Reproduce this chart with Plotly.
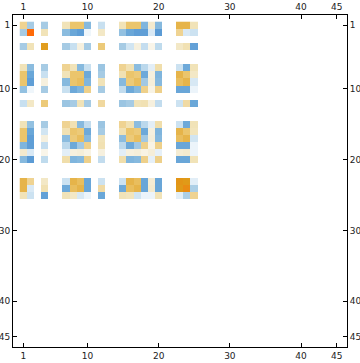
import numpy as np
import plotly.graph_objects as go

# matrix dimension and the indices (1-based) that carry non-zero values
matrix_size = 45
nz_index = [1, 2, 4, 7, 8, 9, 10, 12, 15, 16, 17, 18, 19, 20, 23, 24, 25]

# values for rows/cols in nz_index (all other cells are 0)
block_values = [
    [0.35, -0.38, -0.38, 0.2, 0.5, 0.5, -0.5, -0.22, 0.2, 0.5, 0.5, -0.55, 0.12, -0.5, 0.62, 0.62, 0.2],
    [-0.38, 1.0, 0.2, -0.48, -0.7, -0.85, -0.05, 0.15, -0.45, -0.7, -0.85, -0.85, -0.14, -0.9, 0.35, -0.14, -0.2],
    [-0.38, 0.2, 0.78, -0.38, -0.22, 0.06, -0.38, 0.45, -0.38, -0.18, 0.06, -0.24, 0.04, -0.26, 0.15, 0.22, -0.8],
    [0.2, -0.48, -0.38, 0.35, 0.2, -0.5, -0.22, -0.42, 0.35, 0.22, -0.48, -0.28, -0.1, 0.25, -0.2, -0.68, 0.2],
    [0.5, -0.7, -0.22, 0.2, 0.5, 0.5, -0.68, -0.38, 0.22, 0.5, 0.45, -0.68, 0.06, -0.55, 0.62, 0.5, 0.15],
    [0.5, -0.85, 0.06, -0.5, 0.5, 0.55, -0.55, 0.2, -0.5, 0.45, 0.55, -0.4, 0.08, -0.5, 0.55, 0.62, -0.15],
    [-0.45, -0.05, -0.38, -0.22, -0.68, -0.55, 0.38, -0.38, -0.25, -0.68, -0.5, 0.38, 0.05, 0.38, -0.72, -0.72, -0.06],
    [-0.22, 0.15, 0.45, -0.42, -0.38, 0.2, -0.38, 0.3, -0.42, -0.38, 0.2, 0.22, 0.06, -0.25, -0.2, 0.28, -0.7],
    [0.2, -0.45, -0.38, 0.35, 0.22, -0.5, -0.25, -0.42, 0.35, 0.22, -0.48, -0.28, -0.1, 0.25, -0.2, -0.68, 0.2],
    [0.5, -0.7, -0.18, 0.22, 0.5, 0.45, -0.68, -0.38, 0.22, 0.5, 0.45, -0.68, 0.06, -0.55, 0.62, 0.5, 0.18],
    [0.5, -0.85, 0.06, -0.48, 0.45, 0.55, -0.5, 0.2, -0.48, 0.45, 0.55, -0.4, 0.08, -0.5, 0.55, 0.62, -0.18],
    [-0.55, -0.85, -0.24, -0.28, -0.68, -0.4, 0.38, 0.22, -0.28, -0.68, -0.4, 0.38, 0.05, 0.38, -0.72, -0.72, -0.06],
    [0.12, -0.14, 0.04, -0.1, 0.06, 0.08, 0.05, 0.06, -0.1, 0.06, 0.08, 0.05, 0.08, -0.08, 0.1, 0.12, -0.06],
    [-0.5, -0.9, -0.26, 0.25, -0.55, -0.5, 0.38, -0.25, 0.25, -0.55, -0.5, 0.38, -0.08, 0.38, -0.72, -0.72, 0.2],
    [0.62, 0.35, 0.15, -0.2, 0.62, 0.55, -0.72, -0.2, -0.2, 0.62, 0.55, -0.72, 0.1, -0.72, 0.82, 0.8, -0.1],
    [0.62, -0.14, 0.22, -0.68, 0.55, 0.62, -0.72, 0.28, -0.68, 0.55, 0.62, -0.72, 0.12, -0.72, 0.8, 0.86, -0.35],
    [0.2, -0.2, -0.8, 0.2, 0.15, -0.15, -0.06, -0.7, 0.2, 0.18, -0.18, -0.06, -0.06, 0.2, -0.1, -0.35, 0.35],
]

tick_values = [1, 10, 20, 30, 40, 45]
tick_labels = ["1", "10", "20", "30", "40", "45"]

# build full matrix
z = np.zeros((matrix_size, matrix_size))
idx = np.array(nz_index) - 1
z[np.ix_(idx, idx)] = np.array(block_values)

colorscale = [
    [0.00, "#4f93d2"],
    [0.05, "#5b9bd5"],
    [0.15, "#6aa7d8"],
    [0.25, "#86b9de"],
    [0.31, "#a6cbe4"],
    [0.39, "#c8e0f0"],
    [0.46, "#e6f0f8"],
    [0.50, "#ffffff"],
    [0.53, "#f6f0de"],
    [0.60, "#f1e3b8"],
    [0.675, "#efd392"],
    [0.75, "#ebc56c"],
    [0.81, "#e6b44a"],
    [0.90, "#e09a18"],
    [1.00, "#ff6a08"],
]

cells = list(range(1, matrix_size + 1))

fig = go.Figure()
fig.add_trace(go.Heatmap(
    z=z, x=cells, y=cells, colorscale=colorscale, zmin=-1, zmax=1,
    showscale=False, hoverinfo="skip",
))
fig.add_trace(go.Scatter(x=[None], y=[None], xaxis="x2", yaxis="y2",
                         showlegend=False, hoverinfo="skip"))

rng = [-0.45, matrix_size + 1.45]
tickfont = dict(family="DejaVu Sans", size=9, color="#222222")
common = dict(tickmode="array", tickvals=tick_values, ticktext=tick_labels,
              ticks="inside", ticklen=4, tickwidth=1, tickcolor="black",
              showgrid=False, zeroline=False, tickfont=tickfont, automargin=False,
              showline=True, linecolor="black", linewidth=1)

fig.update_layout(
    width=360, height=363,
    margin=dict(l=13, r=13, t=15, b=16, autoexpand=False),
    paper_bgcolor="white", plot_bgcolor="white",
    xaxis=dict(range=rng, side="bottom", mirror=True, **common),
    yaxis=dict(range=rng[::-1], side="left", mirror=True, **common),
    xaxis2=dict(range=rng, side="top", overlaying="x", anchor="y2", **common),
    yaxis2=dict(range=rng[::-1], side="right", overlaying="y", anchor="x2", **common),
)

fig.write_html("out.html", config={"displayModeBar": False},
               post_script="document.body.style.margin='0px';")
